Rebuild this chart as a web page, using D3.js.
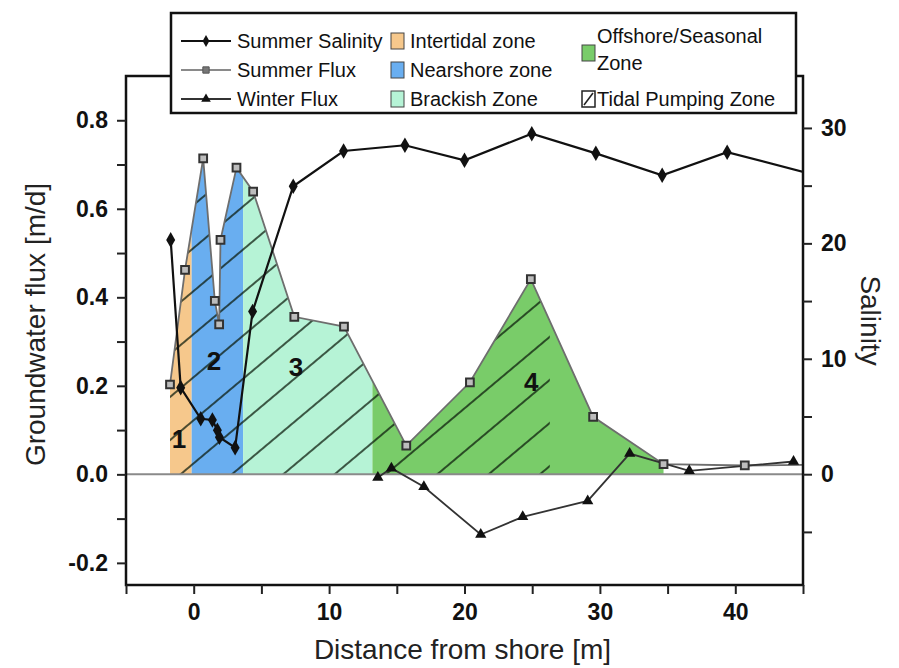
<!DOCTYPE html>
<html>
<head>
<meta charset="utf-8">
<script src="https://cdn.jsdelivr.net/npm/d3@7"></script>
<style>
  body { margin: 0; background: #fff; }
  text { font-family: "Liberation Sans", Arial, sans-serif; }
</style>
</head>
<body>
<div id="chart"></div>
<script>
// summer flux [m/d]
var fluxX = [-1.75, -0.64, 0.7, 1.56, 1.88, 1.98, 3.16, 4.39, 7.43, 11.1, 15.7, 20.4, 24.9, 29.5, 34.7, 40.7, 46];
var fluxY = [0.203, 0.462, 0.714, 0.392, 0.339, 0.53, 0.693, 0.639, 0.356, 0.334, 0.065, 0.208, 0.441, 0.130, 0.023, 0.020, 0.022];

// summer salinity
var salX = [-1.7, -0.96, 0.52, 1.38, 1.75, 1.9, 3.06, 4.35, 7.35, 11.07, 15.6, 20.0, 24.97, 29.7, 34.6, 39.4, 46];
var salY = [20.3, 7.5, 4.8, 4.7, 3.8, 3.2, 2.3, 14.1, 24.95, 28.0, 28.5, 27.2, 29.5, 27.8, 25.9, 27.9, 25.9];

// winter flux [m/d]
var winX = [13.6, 14.6, 17.0, 21.2, 24.3, 29.1, 32.2, 36.6, 44.3];
var winY = [-0.007, 0.014, -0.028, -0.136, -0.096, -0.06, 0.047, 0.008, 0.029];

// zones
var zoneNames = ["Intertidal zone", "Nearshore zone", "Brackish Zone", "Offshore/Seasonal Zone"];
var zoneColors = ["#f6c88c", "#69aef0", "#b6f3d6", "#79cc69"];
var zoneEdges = [-1.75, -0.15, 3.65, 13.2, 34.7];
var tidalRange = [-1.75, 26.3];
var zoneLabels = ["1", "2", "3", "4"];
var zoneLabelX = [-1.08, 1.5, 7.55, 24.93];
var zoneLabelY = [0.081, 0.258, 0.243, 0.21];

var xTicks = [0, 10, 20, 30, 40];
var xMinor = [-5, 5, 15, 25, 35, 45];
var yTicks = [-0.2, 0.0, 0.2, 0.4, 0.6, 0.8];
var yMinor = [-0.1, 0.1, 0.3, 0.5, 0.7];
var sTicks = [0, 10, 20, 30];
var sMinor = [-5, 5, 15, 25];

var W = 899, H = 668;
var margin = { top: 76, right: 96, bottom: 83, left: 126 },
    width = W - margin.left - margin.right,
    height = H - margin.top - margin.bottom;

var svg = d3.select("#chart").append("svg")
    .attr("width", W)
    .attr("height", H);

var defs = svg.append("defs");

var x = d3.scaleLinear().domain([-5, 45]).range([0, width]);
var y = d3.scaleLinear().domain([-0.25, 0.9]).range([height, 0]);
var yS = d3.scaleLinear().domain([-9.6, 34.5]).range([height, 0]);

var g = svg.append("g")
    .attr("transform", "translate(" + margin.left + "," + margin.top + ")");

defs.append("clipPath").attr("id", "plotClip")
  .append("rect").attr("width", width).attr("height", height);

var flux = fluxX.map(function (d, i) { return { x: d, y: fluxY[i] }; });
var sal = salX.map(function (d, i) { return { x: d, y: salY[i] }; });
var win = winX.map(function (d, i) { return { x: d, y: winY[i] }; });

// area under summer flux
var area = d3.area()
    .x(function (d) { return x(d.x); })
    .y0(y(0))
    .y1(function (d) { return y(d.y); });

defs.append("clipPath").attr("id", "areaClip")
  .append("path").datum(flux).attr("d", area);

// hatch pattern
var hatch = defs.append("pattern")
    .attr("id", "hatch")
    .attr("patternUnits", "userSpaceOnUse")
    .attr("width", 20).attr("height", 33)
    .attr("patternTransform", "translate(0,12) rotate(-40)");
hatch.append("line")
    .attr("x1", -5).attr("x2", 25).attr("y1", 1).attr("y2", 1)
    .attr("stroke", "#0a1a0a").attr("stroke-opacity", 0.85).attr("stroke-width", 1.7);

var plot = g.append("g").attr("clip-path", "url(#plotClip)");

var fills = plot.append("g").attr("clip-path", "url(#areaClip)");
zoneColors.forEach(function (c, i) {
    fills.append("rect")
        .attr("x", x(zoneEdges[i]))
        .attr("y", 0)
        .attr("width", x(zoneEdges[i + 1]) - x(zoneEdges[i]))
        .attr("height", height)
        .attr("fill", c);
});
fills.append("rect")
    .attr("x", x(tidalRange[0]))
    .attr("y", 0)
    .attr("width", x(tidalRange[1]) - x(tidalRange[0]))
    .attr("height", height)
    .attr("fill", "url(#hatch)");

// zero line
plot.append("line")
    .attr("x1", 0).attr("x2", width)
    .attr("y1", y(0)).attr("y2", y(0))
    .attr("stroke", "#8a8a8a").attr("stroke-width", 2);

// zone numbers
zoneLabels.forEach(function (t, i) {
    plot.append("text")
        .attr("x", x(zoneLabelX[i]))
        .attr("y", y(zoneLabelY[i]))
        .attr("dy", "0.36em")
        .attr("text-anchor", "middle")
        .style("font-size", "26px")
        .style("font-weight", "bold")
        .style("fill", "#111")
        .text(t);
});

var lineF = d3.line().x(function (d) { return x(d.x); }).y(function (d) { return y(d.y); });
var lineS = d3.line().x(function (d) { return x(d.x); }).y(function (d) { return yS(d.y); });

// summer flux line
plot.append("path").datum(flux)
    .attr("d", lineF)
    .attr("fill", "none")
    .attr("stroke", "#6e6e6e")
    .attr("stroke-width", 1.8);

// winter flux line
plot.append("path").datum(win)
    .attr("d", lineF)
    .attr("fill", "none")
    .attr("stroke", "#333")
    .attr("stroke-width", 1.8);

// salinity line
plot.append("path").datum(sal)
    .attr("d", lineS)
    .attr("fill", "none")
    .attr("stroke", "#111")
    .attr("stroke-width", 2.2);

var sq = d3.symbol().type(d3.symbolSquare).size(60);
var dia = d3.symbol().type(d3.symbolDiamond).size(70);
var tri = d3.symbol().type(d3.symbolTriangle).size(55);

plot.selectAll(".fsq").data(flux).enter().append("path")
    .attr("class", "fsq")
    .attr("d", sq)
    .attr("transform", function (d) { return "translate(" + x(d.x) + "," + y(d.y) + ")"; })
    .attr("fill", "#bdbdbd").attr("stroke", "#333").attr("stroke-width", 2);

plot.selectAll(".wtri").data(win).enter().append("path")
    .attr("class", "wtri")
    .attr("d", tri)
    .attr("transform", function (d) { return "translate(" + x(d.x) + "," + y(d.y) + ")"; })
    .attr("fill", "#111");

plot.selectAll(".sdia").data(sal).enter().append("path")
    .attr("class", "sdia")
    .attr("d", dia)
    .attr("transform", function (d) { return "translate(" + x(d.x) + "," + yS(d.y) + ")"; })
    .attr("fill", "#111");

// frame
g.append("rect")
    .attr("width", width).attr("height", height)
    .attr("fill", "none").attr("stroke", "#111").attr("stroke-width", 2.5);

// axes
function styleAxis(sel) {
    sel.select(".domain").remove();
    sel.selectAll(".tick line").attr("stroke", "#222").attr("stroke-width", 2);
    sel.selectAll(".tick text")
        .style("font-size", "23px")
        .style("font-weight", "bold")
        .style("font-family", "'Liberation Sans', Arial, sans-serif")
        .attr("fill", "#111");
}

// hyphen minus like the original
var fmtY = function (d) { return d.toFixed(1).replace("\u2212", "-"); };

g.append("g")
    .attr("transform", "translate(0," + height + ")")
    .call(d3.axisBottom(x).tickValues(xTicks).tickSize(9).tickPadding(10).tickFormat(d3.format("d")))
    .call(styleAxis);
g.append("g")
    .attr("transform", "translate(0," + height + ")")
    .call(d3.axisBottom(x).tickValues(xMinor).tickSize(9).tickFormat(""))
    .call(styleAxis);

g.append("g")
    .call(d3.axisLeft(y).tickValues(yTicks).tickSize(9).tickPadding(9).tickFormat(fmtY))
    .call(styleAxis);
g.append("g")
    .call(d3.axisLeft(y).tickValues(yMinor).tickSize(9).tickFormat(""))
    .call(styleAxis);

g.append("g")
    .attr("transform", "translate(" + width + ",0)")
    .call(d3.axisRight(yS).tickValues(sTicks).tickSize(9).tickPadding(9).tickFormat(d3.format("d")))
    .call(styleAxis);
g.append("g")
    .attr("transform", "translate(" + width + ",0)")
    .call(d3.axisRight(yS).tickValues(sMinor).tickSize(9).tickFormat(""))
    .call(styleAxis);

// axis titles
svg.append("text")
    .attr("transform", "translate(45," + (margin.top + height / 2 - 6) + ") rotate(-90)")
    .attr("text-anchor", "middle")
    .style("font-size", "28px")
    .style("fill", "#222")
    .text("Groundwater flux [m/d]");

svg.append("text")
    .attr("transform", "translate(861," + (margin.top + height / 2 - 10) + ") rotate(90)")
    .attr("text-anchor", "middle")
    .style("font-size", "28px")
    .style("fill", "#222")
    .text("Salinity");

svg.append("text")
    .attr("x", margin.left + width / 2 - 2)
    .attr("y", 659)
    .attr("text-anchor", "middle")
    .style("font-size", "28px")
    .style("fill", "#222")
    .text("Distance from shore [m]");

// legend
var leg = svg.append("g");
leg.append("rect")
    .attr("x", 171).attr("y", 13).attr("width", 625).attr("height", 100)
    .attr("fill", "#fff").attr("stroke", "#111").attr("stroke-width", 2.5);

var rows = [41, 70, 99];
var lineItems = [
    { name: "Summer Salinity", color: "#111", sym: dia, fill: "#111", stroke: "none" },
    { name: "Summer Flux", color: "#8a8a8a", sym: sq, fill: "#777", stroke: "#555" },
    { name: "Winter Flux", color: "#333", sym: tri, fill: "#111", stroke: "none" }
];
lineItems.forEach(function (it, i) {
    leg.append("line")
        .attr("x1", 181).attr("x2", 231).attr("y1", rows[i]).attr("y2", rows[i])
        .attr("stroke", it.color).attr("stroke-width", 1.8);
    leg.append("path")
        .attr("d", it.sym.size(40)())
        .attr("transform", "translate(206," + rows[i] + ")")
        .attr("fill", it.fill).attr("stroke", it.stroke);
    leg.append("text")
        .attr("x", 237).attr("y", rows[i]).attr("dy", "0.35em")
        .style("font-size", "20px").style("fill", "#111")
        .text(it.name);
});

zoneNames.slice(0, 3).forEach(function (n, i) {
    leg.append("rect")
        .attr("x", 391).attr("y", rows[i] - 8).attr("width", 13).attr("height", 16)
        .attr("fill", zoneColors[i]).attr("stroke", "#444").attr("stroke-width", 1);
    leg.append("text")
        .attr("x", 410).attr("y", rows[i]).attr("dy", "0.35em")
        .style("font-size", "20px").style("fill", "#111")
        .text(n);
});

leg.append("rect")
    .attr("x", 582).attr("y", 45).attr("width", 13).attr("height", 16)
    .attr("fill", zoneColors[3]).attr("stroke", "#444").attr("stroke-width", 1);
leg.append("text")
    .attr("x", 597).attr("y", 36).attr("dy", "0.35em")
    .style("font-size", "20px").style("fill", "#111")
    .text("Offshore/Seasonal");
leg.append("text")
    .attr("x", 597).attr("y", 63).attr("dy", "0.35em")
    .style("font-size", "20px").style("fill", "#111")
    .text("Zone");

leg.append("rect")
    .attr("x", 582).attr("y", rows[2] - 8).attr("width", 13).attr("height", 16)
    .attr("fill", "#fff").attr("stroke", "#222").attr("stroke-width", 1.5);
leg.append("line")
    .attr("x1", 584).attr("y1", rows[2] + 6).attr("x2", 593).attr("y2", rows[2] - 6)
    .attr("stroke", "#222").attr("stroke-width", 1.5);
leg.append("text")
    .attr("x", 597).attr("y", rows[2]).attr("dy", "0.35em")
    .style("font-size", "20px").style("fill", "#111")
    .text("Tidal Pumping Zone");
</script>
</body>
</html>
